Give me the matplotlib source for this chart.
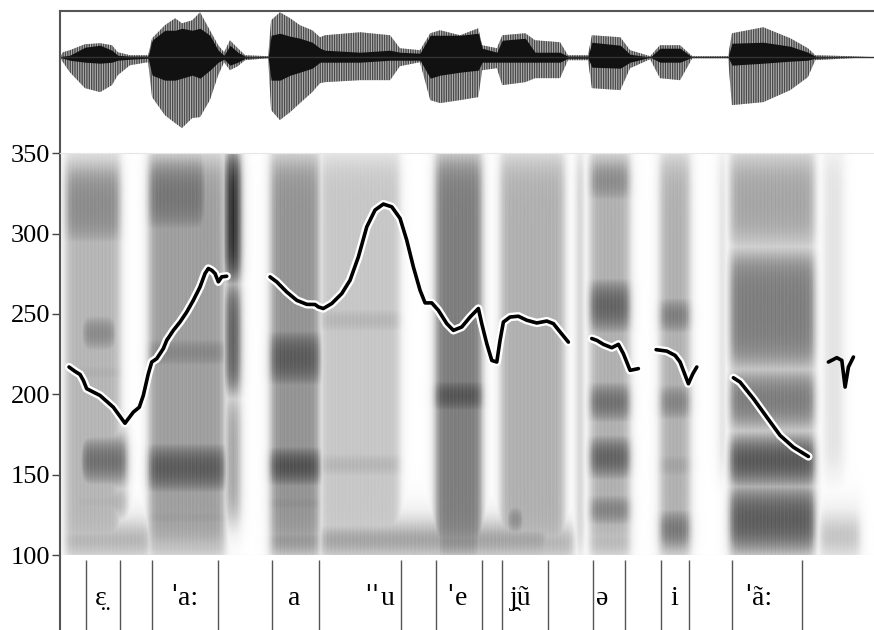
import numpy as np
import matplotlib
matplotlib.use("Agg")
import matplotlib.pyplot as plt
import matplotlib.patheffects as pe

plt.rcParams['font.family'] = ['Liberation Serif', 'DejaVu Serif']
plt.rcParams['hatch.linewidth'] = 1.0

t_max = 1.662
time_ticks = [0.1, 0.2, 0.3, 0.4, 0.5, 0.6, 0.7, 0.8, 0.9, 1.0,
              1.1, 1.2, 1.3, 1.4, 1.5, 1.6, 1.639]
hz_ticks = [100, 150, 200, 250, 300, 350]

# waveform envelope (arbitrary amplitude units)
wave_t = [0, 0.006, 0.020, 0.051, 0.082, 0.106, 0.118, 0.143, 0.180, 0.188,
          0.214, 0.235, 0.249, 0.270, 0.286, 0.306, 0.323, 0.335, 0.347, 0.363,
          0.378, 0.425, 0.431, 0.449, 0.470, 0.490, 0.515, 0.531, 0.541, 0.613,
          0.674, 0.694, 0.735, 0.756, 0.776, 0.817, 0.854, 0.862, 0.892, 0.903,
          0.950, 0.970, 1.021, 1.037, 1.078, 1.086, 1.144, 1.164, 1.205, 1.225,
          1.266, 1.291, 1.364, 1.372, 1.436, 1.491, 1.527, 1.542, 1.613, 1.662]
wave_hi = [0, 5, 7, 13, 14, 12, 5, 2, 2, 19,
           32, 39, 34, 37, 45, 27, 12, 5, 17, 9,
           2, 1, 37, 45, 39, 32, 27, 20, 22, 25,
           22, 9, 7, 24, 27, 22, 29, 12, 9, 22,
           24, 17, 15, 2, 2, 22, 20, 7, 1, 12,
           12, 1, 1, 24, 30, 19, 9, 2, 1, 0]
wave_lo = [0, -5, -15, -31, -35, -28, -18, -8, -5, -40,
           -58, -66, -71, -61, -60, -43, -18, -5, -13, -9,
           -3, -1, -53, -63, -55, -46, -35, -26, -25, -23,
           -23, -9, -5, -43, -46, -43, -40, -13, -11, -28,
           -25, -21, -21, -3, -3, -31, -33, -11, -2, -21,
           -23, -1, -1, -48, -45, -33, -20, -3, -1, 0]
core_hi = [0, 1, 2, 10, 12, 7, 2, 1, 1, 17,
           27, 27, 29, 27, 29, 22, 7, 2, 12, 5,
           1, 0, 22, 24, 21, 19, 15, 9, 7, 5,
           7, 5, 4, 22, 22, 22, 24, 9, 5, 17,
           19, 5, 5, 1, 1, 15, 12, 3, 0, 9,
           9, 0, 0, 14, 15, 11, 5, 1, 0, 0]
core_lo = [0, -1, -3, -5, -6, -5, -3, -2, -1, -18,
           -23, -23, -21, -18, -21, -13, -5, -2, -8, -5,
           -1, 0, -23, -23, -18, -15, -11, -5, -5, -5,
           -3, -3, -3, -21, -18, -15, -13, -5, -5, -5,
           -5, -5, -5, -1, -1, -10, -11, -5, 0, -5,
           -5, 0, 0, -8, -6, -4, -3, -1, 0, 0]

# segmentation tier
seg_bounds = [0.0531, 0.1215, 0.1879, 0.3226, 0.4319, 0.5297, 0.6970, 0.7674,
              0.8611, 0.9020, 0.9961, 1.0884, 1.1546, 1.2275, 1.2845, 1.3727,
              1.5152]
seg_stress = ['', '\u02c8', '', '\u02c8\u02c8', '\u02c8', '', '', '', '\u02c8']
seg_labels = ['\u025b\u0324', 'a:', 'a', 'u', 'e',
              'j\u032f\u0169', '\u0259', 'i', '\u00e3:']
seg_label_t = [0.0837, 0.2532, 0.4778, 0.6514, 0.8107, 0.9414, 1.1068,
               1.2538, 1.4254]

# pitch contour pieces (s, Hz)
pitch_t = [
    [0.0184, 0.0306, 0.0408, 0.0476, 0.0545, 0.0817, 0.1088, 0.1260, 0.1327,
     0.1395, 0.1497, 0.1619, 0.1701, 0.1803, 0.1873, 0.1975, 0.2109, 0.2179,
     0.2314, 0.2450, 0.2587, 0.2722, 0.2859, 0.2961, 0.3028, 0.3098, 0.3165,
     0.3233, 0.3302, 0.3404],
    [0.4288, 0.4425, 0.4629, 0.4834, 0.5038, 0.5207, 0.5275, 0.5377, 0.5548,
     0.5753, 0.5922, 0.6092, 0.6263, 0.6433, 0.6602, 0.6774, 0.6943, 0.7080,
     0.7215, 0.7351, 0.7454, 0.7590, 0.7725, 0.7897, 0.8032, 0.8203, 0.8373,
     0.8542, 0.8611, 0.8714, 0.8816, 0.8918, 0.8985, 0.9053, 0.9189, 0.9359,
     0.9531, 0.9735, 0.9939, 1.0074, 1.0211, 1.0380],
    [1.0858, 1.0960, 1.1095, 1.1267, 1.1401, 1.1503, 1.1640, 1.1809],
    [1.2171, 1.2389, 1.2559, 1.2661, 1.2830, 1.2921, 1.3002],
    [1.3749, 1.3886, 1.4158, 1.4431, 1.4703, 1.4974, 1.5281],
    [1.5689, 1.5861, 1.5963, 1.6030, 1.6098, 1.6200],
]
pitch_hz = [
    [217.0, 214.3, 212.4, 208.7, 203.5, 199.3, 192.0, 184.8, 182.0,
     184.8, 188.9, 192.0, 199.3, 212.8, 220.1, 222.2, 228.4, 233.6,
     239.8, 245.0, 251.2, 258.5, 266.8, 275.2, 278.3, 277.2, 275.2,
     270.0, 273.1, 273.5],
    [273.1, 270.0, 263.7, 258.5, 256.0, 255.9, 254.4, 253.4, 256.5,
     262.7, 271.0, 285.5, 304.2, 314.7, 318.4, 316.7, 309.5, 295.9,
     279.3, 264.8, 256.9, 256.9, 252.3, 244.0, 239.8, 241.9, 248.1,
     253.4, 244.0, 231.5, 221.1, 220.1, 233.6, 245.0, 248.1, 248.6,
     246.1, 244.4, 245.6, 244.0, 238.8, 232.5],
    [234.7, 233.6, 231.1, 229.0, 231.1, 225.3, 214.9, 216.0],
    [227.8, 226.9, 224.2, 220.1, 206.6, 212.8, 217.0],
    [210.3, 207.6, 197.3, 185.8, 174.4, 167.1, 161.3],
    [220.1, 222.8, 221.1, 204.5, 217.0, 223.2],
]
pitch_halo = [True, True, True, True, True, False]

# spectrogram regions: t0, t1, f0, f1, darkness
spec_blobs = [
    (0.010, 0.123, 100, 350, 0.34), (0.010, 0.123, 290, 345, 0.50),
    (0.041, 0.116, 226, 250, 0.64), (0.020, 0.123, 205, 222, 0.56),
    (0.041, 0.100, 184, 196, 0.54), (0.041, 0.137, 144, 173, 0.72),
    (0.020, 0.137, 125, 141, 0.56), (0.010, 0.184, 102, 116, 0.58),
    (0.180, 0.337, 100, 350, 0.42), (0.180, 0.300, 298, 348, 0.60),
    (0.180, 0.337, 214, 238, 0.66), (0.260, 0.310, 184, 198, 0.72),
    (0.180, 0.337, 138, 170, 0.80), (0.250, 0.300, 142, 160, 0.94),
    (0.180, 0.337, 115, 132, 0.66), (0.180, 0.337, 102, 115, 0.58),
    (0.337, 0.368, 270, 350, 0.94), (0.337, 0.368, 200, 270, 0.72),
    (0.337, 0.368, 120, 200, 0.42),
    (0.429, 0.531, 100, 350, 0.46), (0.429, 0.531, 203, 242, 0.76),
    (0.429, 0.531, 188, 202, 0.64), (0.429, 0.531, 143, 167, 0.96),
    (0.429, 0.531, 123, 141, 0.72), (0.429, 0.531, 102, 116, 0.76),
    (0.531, 0.694, 100, 350, 0.27), (0.531, 0.694, 238, 254, 0.54),
    (0.531, 0.694, 220, 232, 0.42), (0.531, 0.694, 203, 214, 0.42),
    (0.531, 0.694, 176, 186, 0.46), (0.531, 0.694, 148, 164, 0.54),
    (0.531, 0.694, 128, 138, 0.42), (0.531, 1.000, 102, 116, 0.68),
    (0.766, 0.862, 100, 350, 0.55), (0.766, 0.862, 216, 236, 0.72),
    (0.766, 0.862, 188, 210, 0.98), (0.766, 0.862, 158, 172, 0.74),
    (0.766, 0.862, 145, 160, 0.86), (0.766, 0.862, 122, 136, 0.72),
    (0.766, 0.862, 102, 116, 0.82),
    (0.899, 1.031, 100, 350, 0.36), (0.899, 1.031, 256, 267, 0.52),
    (0.899, 0.950, 228, 239, 0.56), (0.899, 1.031, 198, 212, 0.50),
    (0.899, 1.031, 178, 192, 0.54), (0.899, 1.031, 158, 173, 0.50),
    (0.899, 1.031, 138, 148, 0.50), (0.910, 0.950, 115, 129, 0.86),
    (0.899, 1.050, 102, 113, 0.66),
    (1.058, 1.066, 100, 350, 0.40),
    (1.082, 1.164, 100, 350, 0.36), (1.082, 1.164, 318, 347, 0.58),
    (1.082, 1.164, 238, 272, 0.74), (1.082, 1.164, 183, 207, 0.78),
    (1.082, 1.164, 148, 173, 0.84), (1.082, 1.164, 120, 136, 0.84),
    (1.082, 1.164, 103, 114, 0.64),
    (1.225, 1.287, 100, 350, 0.36), (1.225, 1.287, 238, 260, 0.74),
    (1.225, 1.287, 183, 207, 0.68), (1.225, 1.287, 144, 167, 0.54),
    (1.225, 1.287, 104, 128, 0.74),
    (1.350, 1.356, 150, 350, 0.30),
    (1.368, 1.542, 290, 350, 0.40), (1.368, 1.542, 215, 290, 0.55),
    (1.368, 1.542, 178, 215, 0.60), (1.368, 1.542, 183, 198, 0.70),
    (1.368, 1.542, 144, 173, 0.84), (1.368, 1.542, 102, 142, 0.74),
    (1.552, 1.634, 102, 121, 0.40), (1.560, 1.600, 150, 350, 0.14),
]

# build the spectrogram picture from the regions
tg = np.linspace(0, t_max, 1200)
fg = np.linspace(100, 350, 420)
T, F = np.meshgrid(tg, fg)
spec = np.zeros_like(T)
for t0, t1, f0, f1, lev in spec_blobs:
    w = 1 / (1 + np.exp(-(T - t0) / 0.005)) / (1 + np.exp(-(t1 - T) / 0.005))
    w = w / (1 + np.exp(-(F - f0) / 6.0)) / (1 + np.exp(-(f1 - F) / 6.0))
    spec = np.maximum(spec, lev * w)
# glottal-pulse striation (texture only)
streak = 0.5 + 0.5 * np.cos(2 * np.pi * T / 0.0052) * np.cos(2 * np.pi * T / 0.0173)
spec = (spec * (1 - 0.15 * streak)) ** 0.8

fig = plt.figure(figsize=(8.74, 6.30), dpi=100)
left = 60 / 874
ax_wave = fig.add_axes([left, 1 - 152 / 630, 1 - left, (152 - 11.3) / 630])
ax_spec = fig.add_axes([left, 1 - 555 / 630, 1 - left, (555 - 153.3) / 630])
ax_tier = fig.add_axes([left, 0, 1 - left, 75 / 630])

# waveform
ax_wave.fill_between(wave_t, wave_lo, wave_hi, facecolor='#b8b8b8',
                     edgecolor='#4a4a4a', hatch='|||||||', linewidth=0)
ax_wave.fill_between(wave_t, core_lo, core_hi, color='#111111', linewidth=0)
ax_wave.axhline(0, color='#333333', lw=1)
ax_wave.set_xlim(0, t_max)
ax_wave.set_ylim(-95, 46)
ax_wave.set_xticks([])
ax_wave.set_yticks([])
for s in ['right', 'bottom']:
    ax_wave.spines[s].set_visible(False)
for s in ['top', 'left']:
    ax_wave.spines[s].set_color('#555555')
    ax_wave.spines[s].set_linewidth(1.5)

# spectrogram + pitch
ax_spec.imshow(spec, extent=(0, t_max, 100, 350), origin='lower',
               aspect='auto', cmap='Greys', vmin=0, vmax=1,
               interpolation='bilinear')
for pt, ph, halo in zip(pitch_t, pitch_hz, pitch_halo):
    if halo:
        ax_spec.plot(pt, ph, color='black', lw=2.6, solid_capstyle='round',
                     path_effects=[pe.Stroke(linewidth=6, foreground='white'),
                                   pe.Normal()])
    else:
        ax_spec.plot(pt, ph, color='black', lw=2.6, solid_capstyle='round')
ax_spec.set_xlim(0, t_max)
ax_spec.set_ylim(100, 350)
ax_spec.set_yticks(hz_ticks)
ax_spec.set_xticks(time_ticks)
ax_spec.set_xticklabels([])
ax_spec.tick_params(axis='y', direction='out', length=6, width=1,
                    color='#444444', labelsize=19, pad=1)
ax_spec.tick_params(axis='x', direction='out', length=6, width=1,
                    color='#444444')
ax_spec.spines['right'].set_visible(False)
ax_spec.spines['top'].set_color('#e6e6e6')
ax_spec.spines['bottom'].set_color('#e6e6e6')
ax_spec.spines['left'].set_color('#555555')
ax_spec.spines['left'].set_linewidth(1.5)

# segmentation tier
ax_tier.vlines(seg_bounds, 0, 0.93, color='#555555', lw=1)
ax_tier.set_xlim(0, t_max)
ax_tier.set_ylim(0, 1)
ax_tier.set_xticks([])
ax_tier.set_yticks([])
for s in ['right', 'bottom', 'top']:
    ax_tier.spines[s].set_visible(False)
ax_tier.spines['left'].set_color('#555555')
ax_tier.spines['left'].set_linewidth(1.5)

fig.canvas.draw()
renderer = fig.canvas.get_renderer()
inv = ax_tier.transData.inverted()
for lt, st, lab in zip(seg_label_t, seg_stress, seg_labels):
    txt = ax_tier.text(lt, 0.42, lab, ha='center', va='center', fontsize=20)
    if st:
        sm = ax_tier.text(0, 0.42, st, ha='left', va='center', fontsize=20,
                          family='DejaVu Serif')
        w_lab = txt.get_window_extent(renderer).width
        w_st = sm.get_window_extent(renderer).width
        xc = ax_tier.transData.transform((lt, 0))[0]
        x0 = xc - (w_lab + w_st + 1) / 2
        sm.set_position((inv.transform((x0, 0))[0], 0.42))
        txt.set_position((inv.transform((x0 + w_st + 1 + w_lab / 2, 0))[0], 0.42))

fig.savefig('out.png', dpi=100)
